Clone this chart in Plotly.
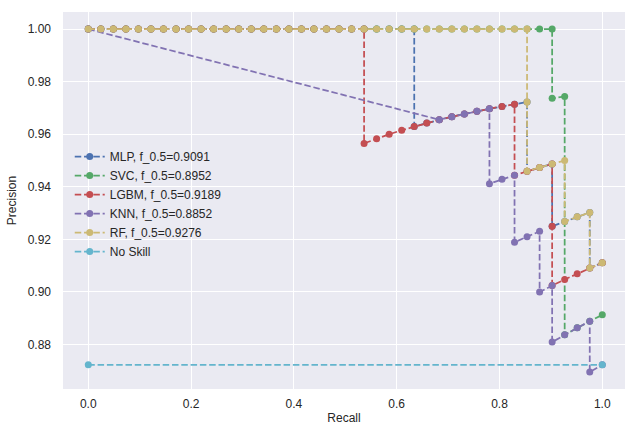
import plotly.graph_objects as go

N_POS = 41
NO_SKILL = 0.8723

names = ["MLP, f_0.5=0.9091", "SVC, f_0.5=0.8952", "LGBM, f_0.5=0.9189",
         "KNN, f_0.5=0.8852", "RF, f_0.5=0.9276"]
colors = ["#4C72B0", "#55A868", "#C44E52", "#8172B2", "#CCB974"]
noskill_color = "#64B5CD"

# true-positive / false-positive counts at each threshold
mlp_tp = [0, 1, 2, 3, 4, 5, 6, 7, 8, 9, 10, 11, 12, 13, 14, 15, 16, 17, 18, 19, 20,
          21, 22, 23, 24, 25, 26, 26, 27, 28, 29, 30, 31, 32, 33, 34, 35, 35, 36, 37,
          37, 38, 39, 40, 40, 41]
mlp_fp = [0, 0, 0, 0, 0, 0, 0, 0, 0, 0, 0, 0, 0, 0, 0, 0, 0, 0, 0, 0, 0,
          0, 0, 0, 0, 0, 0, 1, 1, 1, 1, 1, 1, 1, 1, 1, 1, 2, 2, 2,
          3, 3, 3, 3, 4, 4]

svc_tp = [0, 1, 2, 3, 4, 5, 6, 7, 8, 9, 10, 11, 12, 13, 14, 15, 16, 17, 18, 19, 20,
          21, 22, 23, 24, 25, 26, 27, 28, 29, 30, 31, 32, 33, 34, 35, 36, 37,
          37, 38, 38, 39, 40, 41]
svc_fp = [0, 0, 0, 0, 0, 0, 0, 0, 0, 0, 0, 0, 0, 0, 0, 0, 0, 0, 0, 0, 0,
          0, 0, 0, 0, 0, 0, 0, 0, 0, 0, 0, 0, 0, 0, 0, 0, 0,
          1, 1, 5, 5, 5, 5]

lgbm_tp = [0, 1, 2, 3, 4, 5, 6, 7, 8, 9, 10, 11, 12, 13, 14, 15, 16, 17, 18, 19, 20,
           21, 22, 22, 23, 24, 25, 26, 27, 28, 29, 30, 31, 32, 33, 34, 34, 35, 36, 37,
           37, 37, 38, 39, 40, 41]
lgbm_fp = [0, 0, 0, 0, 0, 0, 0, 0, 0, 0, 0, 0, 0, 0, 0, 0, 0, 0, 0, 0, 0,
           0, 0, 1, 1, 1, 1, 1, 1, 1, 1, 1, 1, 1, 1, 1, 2, 2, 2, 2,
           3, 4, 4, 4, 4, 4]

knn_tp = [0, 28, 29, 30, 31, 32, 32, 33, 34, 34, 35, 36, 36, 37, 37, 38, 39, 40, 40, 41]
knn_fp = [0, 1, 1, 1, 1, 1, 2, 2, 2, 3, 3, 3, 4, 4, 5, 5, 5, 5, 6, 6]

rf_tp = [0, 1, 2, 3, 4, 5, 6, 7, 8, 9, 10, 11, 12, 13, 14, 15, 16, 17, 18, 19, 20,
         21, 22, 23, 24, 25, 26, 27, 28, 29, 30, 31, 32, 33, 34, 35, 35, 35, 36, 37, 38,
         38, 39, 40, 40, 41]
rf_fp = [0, 0, 0, 0, 0, 0, 0, 0, 0, 0, 0, 0, 0, 0, 0, 0, 0, 0, 0, 0, 0,
         0, 0, 0, 0, 0, 0, 0, 0, 0, 0, 0, 0, 0, 0, 0, 1, 2, 2, 2, 2,
         3, 3, 3, 4, 4]

x_ticks = [0.0, 0.2, 0.4, 0.6, 0.8, 1.0]
y_ticks = [0.88, 0.90, 0.92, 0.94, 0.96, 0.98, 1.00]


def pr(tp, fp):
    rec = [t / N_POS for t in tp]
    prec = [1.0 if t + f == 0 else t / (t + f) for t, f in zip(tp, fp)]
    return rec, prec


series = [(mlp_tp, mlp_fp), (svc_tp, svc_fp), (lgbm_tp, lgbm_fp),
          (knn_tp, knn_fp), (rf_tp, rf_fp)]

fig = go.Figure()
DASH = "6.5px,2.8px"
for (tp, fp), name, col in zip(series, names, colors):
    r, p = pr(tp, fp)
    fig.add_trace(go.Scatter(x=r, y=p, mode="lines+markers", name=name,
                             line=dict(color=col, width=1.75, dash=DASH),
                             marker=dict(color=col, size=7)))

fig.add_trace(go.Scatter(x=[0, 1], y=[NO_SKILL, NO_SKILL], mode="lines+markers",
                         name="No Skill",
                         line=dict(color=noskill_color, width=1.75, dash=DASH),
                         marker=dict(color=noskill_color, size=7)))

font_family = "Liberation Sans, Arial, sans-serif"
fig.update_layout(
    width=625, height=425,
    margin=dict(l=63, r=0, t=12, b=36),
    paper_bgcolor="white",
    plot_bgcolor="#EAEAF2",
    font=dict(family=font_family, size=12, color="#262626"),
    showlegend=True,
    legend=dict(x=0.012, y=0.655, xanchor="left", yanchor="top",
                bgcolor="rgba(0,0,0,0)", font=dict(size=12, color="#262626"),
                tracegroupgap=0),
    xaxis=dict(range=[-0.0492, 1.0442], tickvals=x_ticks, tickformat=".1f",
               showgrid=True, gridcolor="white", gridwidth=1.2, zeroline=False,
               showline=False, ticks="", ticklabelstandoff=6, automargin=False,
               title=dict(text="Recall", standoff=5, font=dict(size=12))),
    yaxis=dict(range=[0.8631, 1.0065], tickvals=y_ticks, tickformat=".2f",
               showgrid=True, gridcolor="white", gridwidth=1.2, zeroline=False,
               showline=False, ticks="", ticklabelstandoff=11, automargin=False,
               title=dict(text="Precision", standoff=8, font=dict(size=12))),
)

fig.write_html("out.html",
               config={"displayModeBar": False},
               post_script="document.body.style.margin='0';document.body.style.overflow='hidden';")
